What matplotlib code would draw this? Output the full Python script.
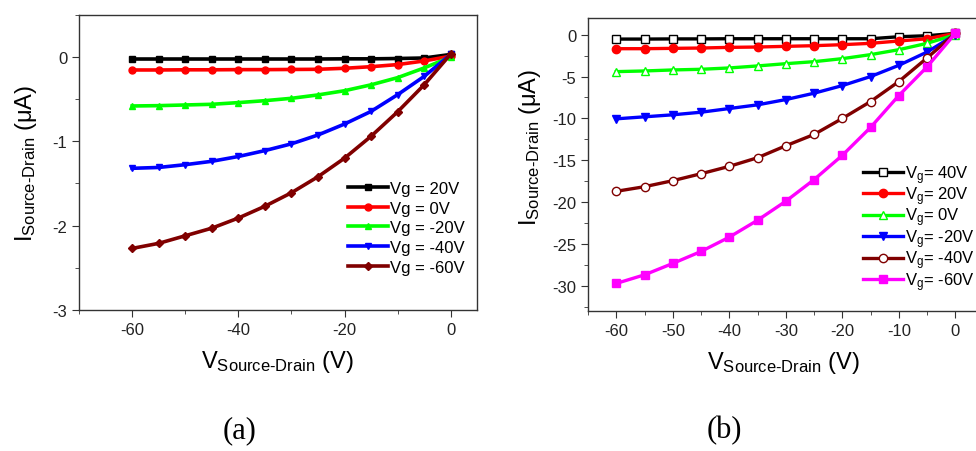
import numpy as np
import matplotlib
matplotlib.use("Agg")
import matplotlib.pyplot as plt
import matplotlib.pylab as pylab
from matplotlib.ticker import MultipleLocator

# params to control plot
myparams = {
    'font.family'      : 'Liberation Sans',
    'mathtext.fontset' : 'custom',
    'mathtext.rm'      : 'Liberation Sans',
    'mathtext.it'      : 'Liberation Sans',
    'xtick.labelsize'  : 12,
    'ytick.labelsize'  : 12,
    'xtick.direction'  : 'out',
    'ytick.direction'  : 'out',
    'xtick.major.size' : 5,
    'ytick.major.size' : 5,
    'xtick.minor.size' : 3,
    'ytick.minor.size' : 3,
    'axes.linewidth'   : 1,
    'legend.frameon'   : False,
}
pylab.rcParams.update(myparams)

## source-drain voltage (same for both panels)
vsd = [-60, -55, -50, -45, -40, -35, -30, -25, -20, -15, -10, -5, 0]

## panel (a) currents (uA)
a_vg20  = [-0.024, -0.024, -0.024, -0.024, -0.024, -0.024, -0.024, -0.024, -0.022, -0.022, -0.018, -0.012, 0.03]
a_vg0   = [-0.154, -0.154, -0.152, -0.152, -0.150, -0.150, -0.148, -0.146, -0.134, -0.115, -0.090, -0.047, 0.01]
a_vgm20 = [-0.581, -0.577, -0.569, -0.561, -0.541, -0.518, -0.490, -0.450, -0.400, -0.330, -0.245, -0.130, 0.0]
a_vgm40 = [-1.32, -1.31, -1.277, -1.237, -1.18, -1.11, -1.03, -0.925, -0.795, -0.645, -0.447, -0.23, 0.03]
a_vgm60 = [-2.27, -2.21, -2.12, -2.03, -1.91, -1.77, -1.61, -1.42, -1.20, -0.94, -0.65, -0.33, 0.035]

## panel (b) currents (uA)
b_vg40  = [-0.52, -0.52, -0.50, -0.50, -0.48, -0.48, -0.48, -0.48, -0.48, -0.48, -0.24, -0.12, 0.16]
b_vg20  = [-1.67, -1.67, -1.63, -1.59, -1.51, -1.47, -1.39, -1.31, -1.19, -1.03, -0.75, -0.48, 0.16]
b_vg0   = [-4.41, -4.33, -4.21, -4.13, -3.97, -3.73, -3.46, -3.22, -2.86, -2.38, -1.79, -1.03, 0.0]
b_vgm20 = [-10.05, -9.81, -9.57, -9.26, -8.82, -8.38, -7.75, -6.99, -6.08, -5.00, -3.66, -2.07, 0.0]
b_vgm40 = [-18.71, -18.16, -17.44, -16.61, -15.73, -14.70, -13.27, -11.92, -10.01, -7.99, -5.60, -2.78, 0.16]
b_vgm60 = [-29.72, -28.69, -27.33, -25.90, -24.19, -22.17, -19.90, -17.32, -14.42, -11.08, -7.27, -3.85, 0.16]

a_labels = ["Vg = 20V", "Vg = 0V", "Vg = -20V", "Vg = -40V", "Vg = -60V"]
b_labels = [r"V$_\mathrm{g}$= 40V", r"V$_\mathrm{g}$= 20V", r"V$_\mathrm{g}$= 0V",
            r"V$_\mathrm{g}$= -20V", r"V$_\mathrm{g}$= -40V", r"V$_\mathrm{g}$= -60V"]

ylabel = r"$\mathrm{I}_{\mathrm{Source}\text{-}\mathrm{Drain}}$ ($\mathrm{\mu}$A)"
xlabel = r"$\mathrm{V}_{\mathrm{Source}\text{-}\mathrm{Drain}}$ (V)"


def style_axes(ax):
    """ frame and ticks like origin plots """
    for sp in ax.spines.values():
        sp.set_color("#333333")
    ax.tick_params(which="both", top=False, right=False, colors="#333333",
                   labelcolor="#222222")


def main():
    fig = plt.figure(figsize=(9.76, 4.52), dpi=100)

    ## panel (a)
    ax1 = fig.add_axes([0.081, 0.312, 0.408, 0.653])
    styles_a = [("k", "s"), ("#ff0000", "o"), ("#00ff00", "^"), ("#0000ff", "v"), ("#800000", "D")]
    series_a = [a_vg20, a_vg0, a_vgm20, a_vgm40, a_vgm60]
    for ys, (c, m), lab in zip(series_a, styles_a, a_labels):
        ax1.plot(vsd, ys, color=c, marker=m, ms=5 if m != "D" else 4.5,
                 lw=2.6, label=lab)
    ax1.set_xlim(-70, 5)
    ax1.set_ylim(-3, 0.5)
    ax1.xaxis.set_minor_locator(MultipleLocator(10))
    ax1.yaxis.set_minor_locator(MultipleLocator(0.5))
    ax1.set_xticks([-60, -40, -20, 0])
    ax1.set_xticklabels(["-60", "-40", "-20", "0"])
    ax1.set_yticks([-3, -2, -1, 0])
    ax1.set_yticklabels(["-3", "-2", "-1", "0"])
    style_axes(ax1)
    ax1.set_xlabel(xlabel, fontsize=17)
    ax1.set_ylabel(ylabel, fontsize=17)
    ax1.xaxis.set_label_coords(0.497, -0.13)
    ax1.yaxis.set_label_coords(-0.10, 0.5)
    ax1.legend(loc="upper left", bbox_to_anchor=(0.675, 0.437), fontsize=12,
               handlelength=2.4, handletextpad=0.15, labelspacing=0.28,
               borderpad=0, borderaxespad=0)

    ## panel (b)
    ax2 = fig.add_axes([0.6025, 0.31, 0.4052, 0.648])
    styles_b = [("k", "s", "white"), ("#ff0000", "o", "#ff0000"),
                ("#00ff00", "^", "white"), ("#0000ff", "v", "#0000ff"),
                ("#800000", "o", "white"), ("#ff00ff", "s", "#ff00ff")]
    series_b = [b_vg40, b_vg20, b_vg0, b_vgm20, b_vgm40, b_vgm60]
    for ys, (c, m, fc), lab in zip(series_b, styles_b, b_labels):
        ax2.plot(vsd, ys, color=c, marker=m, ms=6, mfc=fc, mec=c, mew=1,
                 lw=2.4, label=lab)
    ax2.set_xlim(-65, 5)
    ax2.set_ylim(-33, 2)
    ax2.set_xticks([-60, -50, -40, -30, -20, -10, 0])
    ax2.set_xticklabels(["-60", "-50", "-40", "-30", "-20", "-10", "0"])
    ax2.xaxis.set_minor_locator(MultipleLocator(5))
    ax2.set_yticks([-30, -25, -20, -15, -10, -5, 0])
    ax2.set_yticklabels(["-30", "-25", "-20", "-15", "-10", "-5", "0"])
    ax2.yaxis.set_minor_locator(MultipleLocator(2.5))
    style_axes(ax2)
    ax2.set_xlabel(xlabel, fontsize=17)
    ax2.set_ylabel(ylabel, fontsize=17)
    ax2.xaxis.set_label_coords(0.493, -0.13)
    ax2.yaxis.set_label_coords(-0.115, 0.56)
    ax2.legend(loc="upper left", bbox_to_anchor=(0.695, 0.505), fontsize=12,
               handlelength=2.4, handletextpad=0.15, labelspacing=-0.07,
               borderpad=0, borderaxespad=0)

    ## panel captions
    fig.text(0.2285, 0.03, "(a)", family="Liberation Serif", fontsize=22)
    fig.text(0.724, 0.03, "(b)", family="Liberation Serif", fontsize=22)

    fig.savefig("out.png", dpi=100)


if __name__ == "__main__":
    main()
